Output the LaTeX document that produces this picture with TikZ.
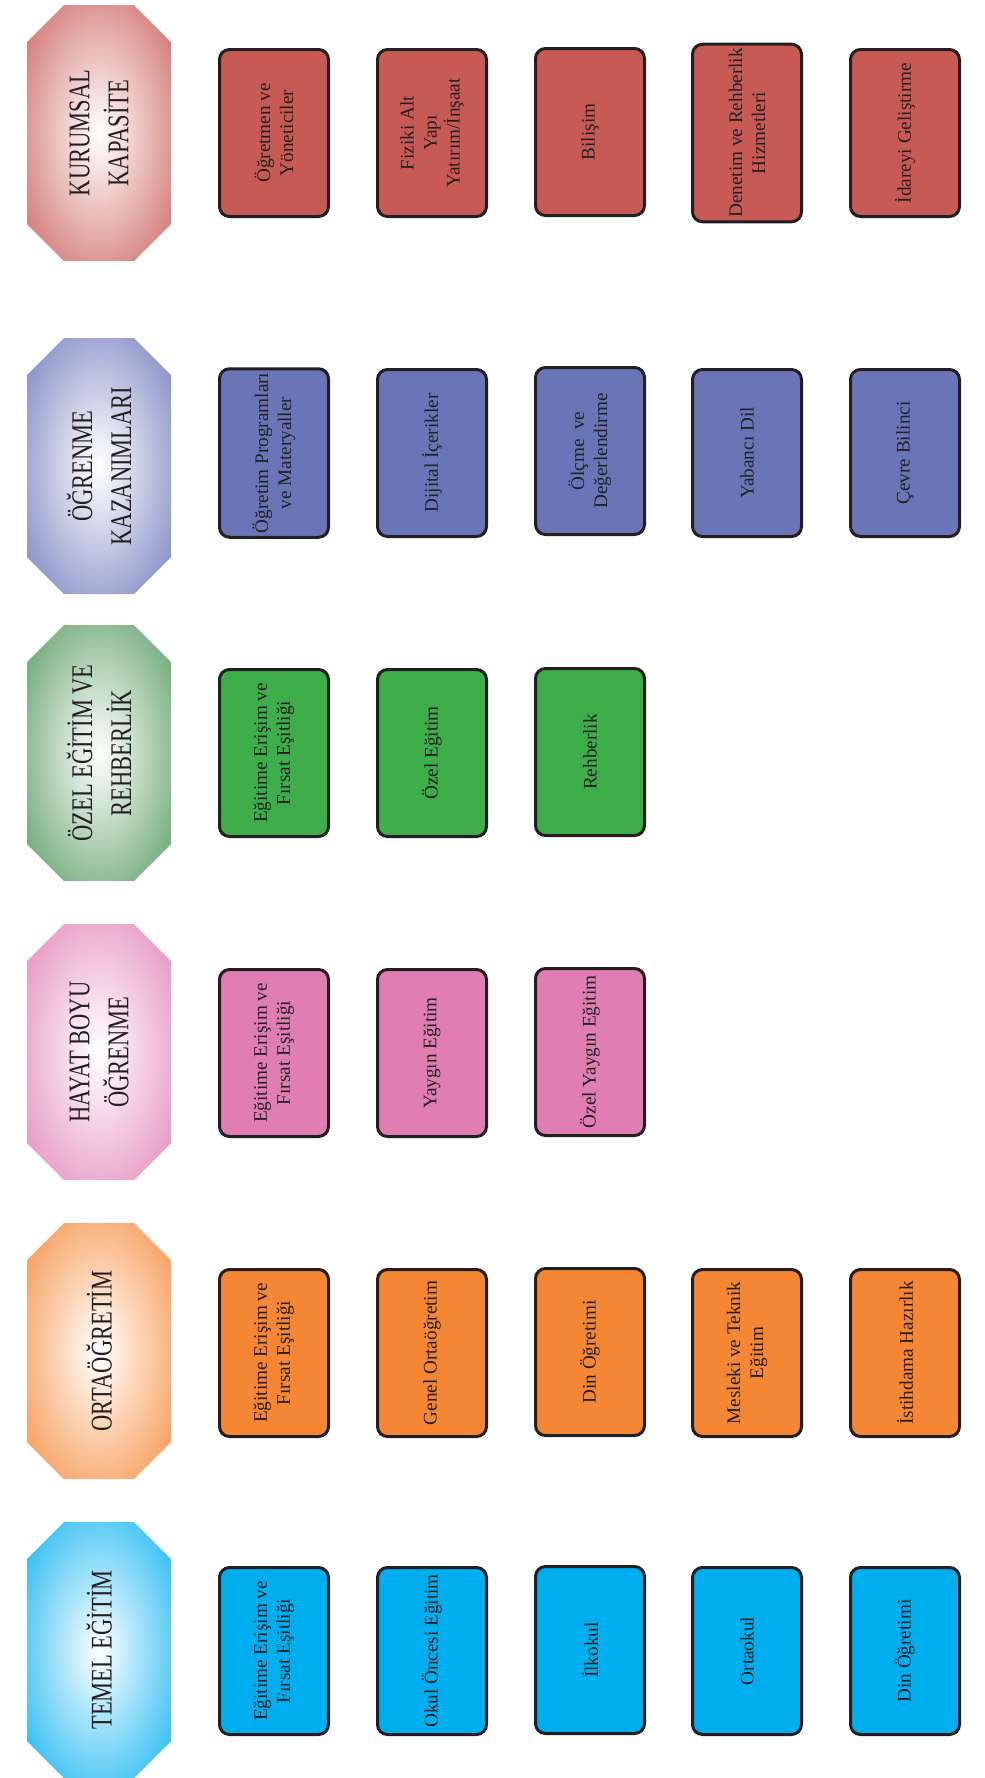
\documentclass[tikz,border=0pt]{standalone}
\usepackage{fontspec}
\setmainfont{Liberation Serif}
\newfontfamily\hdrfont[FakeStretch=0.75]{Liberation Serif}
\usetikzlibrary{backgrounds}

\definecolor{temel}{HTML}{00AEEF}
\definecolor{orta}{HTML}{F58634}
\definecolor{hayat}{HTML}{E07EB4}
\definecolor{ozel}{HTML}{3DAE49}
\definecolor{ozelhdr}{HTML}{4E9458}
\definecolor{ogren}{HTML}{6A75B8}
\definecolor{kurum}{HTML}{C85A55}
\definecolor{ink}{HTML}{231F20}

\pgfdeclareradialshading[hdrcol]{hdrglow}{\pgfpoint{0bp}{0bp}}{%
  color(0bp)=(white); color(40bp)=(hdrcol); color(50bp)=(hdrcol)}

\begin{document}
\begin{tikzpicture}
[x=0.5pt,y=-0.5pt,%
  every node/.style={inner sep=2pt,align=center,rotate=90,text=ink},%
  hdr/.style={shape=rectangle,minimum width=128pt,minimum height=72pt,%
    font=\hdrfont\fontsize{15}{19.5}\selectfont},%
  hdrfill/.style={/utils/exec={\colorlet{hdrcol}{#1}},shading=hdrglow},%
  item/.style={shape=rectangle,rounded corners=5pt,draw=ink,line width=1.5pt,%
    fill=#1,minimum width=83.5pt,minimum height=54.5pt,%
    font=\fontsize{9.6}{11.5}\selectfont}]
\useasboundingbox (0,0) rectangle (985,1778);

% headers
\node[hdr] (kurumsal) at (99,133) {KURUMSAL\\KAPASİTE};
\node[hdr] (ogrenme) at (99,466) {ÖĞRENME\\KAZANIMLARI};
\node[hdr] (ozel) at (99,753) {ÖZEL EĞİTİM VE\\REHBERLİK};
\node[hdr] (hayat) at (99,1052) {HAYAT BOYU\\ÖĞRENME};
\node[hdr] (orta) at (99,1351) {ORTAÖĞRETİM};
\node[hdr] (temel) at (99,1650) {TEMEL EĞİTİM};

% kurumsal kapasite
\node[item=kurum] (kurumsal-1) at (274,133) {Öğretmen ve\\Yöneticiler};
\node[item=kurum] (kurumsal-2) at (432,133) {Fiziki Alt\\Yapı\\Yatırım/İnşaat};
\node[item=kurum] (kurumsal-3) at (590,132) {Bilişim};
\node[item=kurum] (kurumsal-4) at (747,133) {Denetim ve Rehberlik\\Hizmetleri};
\node[item=kurum] (kurumsal-5) at (905,133) {İdareyi Geliştirme};

% ogrenme kazanimlari
\node[item=ogren] (ogrenme-1) at (274,453) {Öğretim Programları\\ve Materyaller};
\node[item=ogren] (ogrenme-2) at (432,453) {Dijital İçerikler};
\node[item=ogren] (ogrenme-3) at (590,451) {Ölçme\ \ ve\\Değerlendirme};
\node[item=ogren] (ogrenme-4) at (747,453) {Yabancı Dil};
\node[item=ogren] (ogrenme-5) at (905,453) {Çevre Bilinci};

% ozel egitim ve rehberlik
\node[item=ozel] (ozel-1) at (274,753) {Eğitime Erişim ve\\Fırsat Eşitliği};
\node[item=ozel] (ozel-2) at (432,753) {Özel Eğitim};
\node[item=ozel] (ozel-3) at (590,752) {Rehberlik};

% hayat boyu ogrenme
\node[item=hayat] (hayat-1) at (274,1053) {Eğitime Erişim ve\\Fırsat Eşitliği};
\node[item=hayat] (hayat-2) at (432,1053) {Yaygın Eğitim};
\node[item=hayat] (hayat-3) at (590,1052) {Özel Yaygın Eğitim};

% ortaogretim
\node[item=orta] (orta-1) at (274,1353) {Eğitime Erişim ve\\Fırsat Eşitliği};
\node[item=orta] (orta-2) at (432,1353) {Genel Ortaöğretim};
\node[item=orta] (orta-3) at (590,1352) {Din Öğretimi};
\node[item=orta] (orta-4) at (747,1353) {Mesleki ve Teknik\\Eğitim};
\node[item=orta] (orta-5) at (905,1353) {İstihdama Hazırlık};

% temel egitim
\node[item=temel] (temel-1) at (274,1651) {Eğitime Erişim ve\\Fırsat Eşitliği};
\node[item=temel] (temel-2) at (432,1651) {Okul Öncesi Eğitim};
\node[item=temel] (temel-3) at (590,1650) {İlkokul};
\node[item=temel] (temel-4) at (747,1651) {Ortaokul};
\node[item=temel] (temel-5) at (905,1651) {Din Öğretimi};

% octagons behind the header texts
\begin{scope}[on background layer]
\foreach \n/\c in {kurumsal/kurum,ogrenme/ogren,ozel/ozelhdr,hayat/hayat,orta/orta,temel/temel}
  \path[hdrfill=\c] ([shift={(-72,-91)}]\n.center) -- ([shift={(-35,-128)}]\n.center)
    -- ([shift={(35,-128)}]\n.center) -- ([shift={(72,-91)}]\n.center)
    -- ([shift={(72,91)}]\n.center) -- ([shift={(35,128)}]\n.center)
    -- ([shift={(-35,128)}]\n.center) -- ([shift={(-72,91)}]\n.center) -- cycle;
\end{scope}
\end{tikzpicture}
\end{document}
